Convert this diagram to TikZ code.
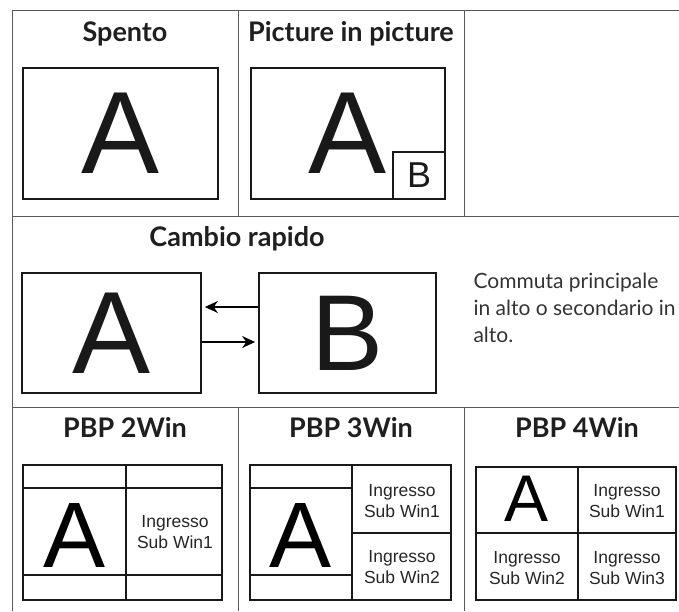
\documentclass[tikz,border=0pt]{standalone}
\usepackage{fontspec}
\setmainfont{Lato}
\newfontfamily\helv{Liberation Sans}
\usetikzlibrary{arrows.meta}
\tikzset{
  tbl/.style={draw=black!65, line width=0.9pt},
  scr/.style={draw=black!90, line width=1.8pt, inner sep=0pt, text=black!90},
  split/.style={draw=black!90, line width=1.8pt},
  ttl/.style={font=\bfseries\fontsize{27}{30}\selectfont, text=black!88, anchor=base},
  sub/.style={font=\helv\fontsize{17.5}{21}\selectfont, align=center, text=black!85},
  swap/.style={-{Stealth[length=13pt, width=12pt]}, line width=1.2pt, shorten >=3pt},
}
\newcommand{\bigA}[1]{\helv\fontsize{#1}{#1}\selectfont}

\begin{document}
\begin{tikzpicture}[x=1pt, y=-1pt]
\useasboundingbox (0,0) rectangle (679,611);
% Table grid
\draw[tbl] (12,611) -- (12,10) -- (679,10);
\foreach \y in {216,407} \draw[tbl] (12,\y) -- (679,\y);
\foreach \x in {238,464} {\draw[tbl] (\x,10) -- (\x,216); \draw[tbl] (\x,407) -- (\x,611);}
% Titles
\node[ttl] (toff) at (125,41) {Spento};
\node[ttl] (tpip) at (351,41) {Picture in picture};
\node[ttl] (tswap) at (237,246) {Cambio rapido};
\foreach \x/\k in {125/2, 351/3, 577/4} \node[ttl] (tpbp\k) at (\x,437) {PBP \k Win};
% Spento / PiP
\node[scr, minimum width=195pt, minimum height=131pt, font=\bigA{117}] (off) at (120.5,133.5) {A};
\node[scr, minimum width=194pt, minimum height=131pt, font=\bigA{117}] (pip) at (348,133.5) {A};
\node[scr, minimum width=52pt, minimum height=47pt, font=\bigA{36}] (pipb) at (419,175.5) {B};
% Cambio rapido
\node[scr, minimum width=179pt, minimum height=120pt, font=\bigA{117}] (mainA) at (111.5,333) {A};
\node[scr, minimum width=177pt, minimum height=120pt, font=\bigA{108}] (mainB) at (347.5,333) {B};
\draw[swap] ([yshift=26pt]mainB.west) -- ([yshift=26pt]mainA.east);
\draw[swap] ([yshift=-9pt]mainA.east) -- ([yshift=-9pt]mainB.west);
\node[anchor=base west, align=left, font=\fontsize{21}{27}\selectfont, text=black!80] (note) at (470,342) {Commuta principale\\in alto o secondario in\\alto.};
% PBP 2Win
\node[scr, minimum width=199pt, minimum height=135pt] (pbp2) at (122.5,532.5) {};
\foreach \y in {488,575} \draw[split] (23,\y) -- (222,\y);
\draw[split] (126,465) -- (126,600);
\node[font=\bigA{93}, inner sep=0pt] (p2a) at (74.5,535) {A};
\node[sub] (p2s1) at (175,532) {Ingresso\\Sub Win1};
% PBP 3Win
\node[scr, minimum width=201pt, minimum height=135pt] (pbp3) at (350.5,532.5) {};
\foreach \y in {488,575} \draw[split] (250,\y) -- (352,\y);
\draw[split] (352,465) -- (352,600);
\draw[split] (352,533) -- (451,533);
\node[font=\bigA{93}, inner sep=0pt] (p3a) at (301,535) {A};
\node[sub] (p3s1) at (402,501) {Ingresso\\Sub Win1};
\node[sub] (p3s2) at (402,567) {Ingresso\\Sub Win2};
% PBP 4Win
\node[scr, minimum width=200pt, minimum height=133pt] (pbp4) at (576,533.5) {};
\draw[split] (578,467) -- (578,600);
\draw[split] (476,533) -- (676,533);
\node[font=\bigA{66}, inner sep=0pt] (p4a) at (527,499) {A};
\node[sub] (p4s1) at (627,501) {Ingresso\\Sub Win1};
\node[sub] (p4s2) at (527,568) {Ingresso\\Sub Win2};
\node[sub] (p4s3) at (627,568) {Ingresso\\Sub Win3};
\end{tikzpicture}
\end{document}
